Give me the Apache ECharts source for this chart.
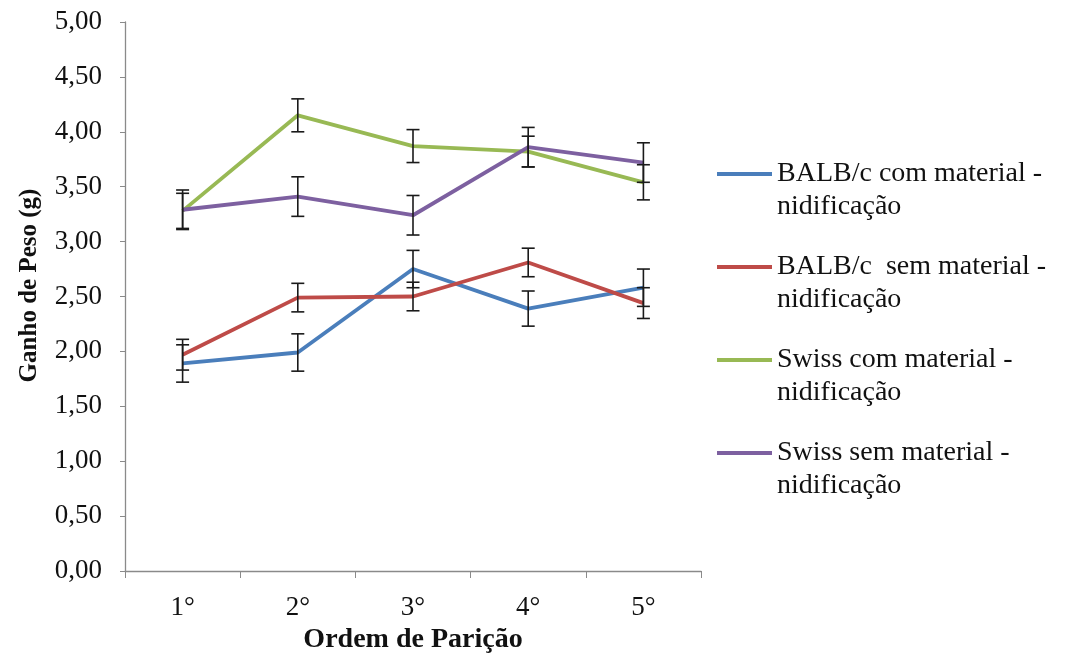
<!DOCTYPE html>
<html>
<head>
<meta charset="utf-8">
<script src="https://cdn.jsdelivr.net/npm/echarts@6/dist/echarts.min.js"></script>
<style>html,body{margin:0;padding:0;background:#fff}#c{width:1071px;height:663px}</style>
</head>
<body>
<div id="c"></div>
<script>
const categories = ['1°', '2°', '3°', '4°', '5°'];
const seriesNames = [
  'BALB/c com material - nidificação',
  'BALB/c  sem material - nidificação',
  'Swiss com material - nidificação',
  'Swiss sem material - nidificação'
];
const balbCom = [1.89, 1.99, 2.75, 2.39, 2.58];
const balbSem = [1.97, 2.49, 2.50, 2.81, 2.44];
const swissCom = [3.28, 4.15, 3.87, 3.82, 3.54];
const swissSem = [3.29, 3.41, 3.24, 3.86, 3.72];
const balbComErr = [0.17, 0.17, 0.17, 0.16, 0.17];
const balbSemErr = [0.14, 0.13, 0.13, 0.13, 0.14];
const swissComErr = [0.16, 0.15, 0.15, 0.14, 0.16];
const swissSemErr = [0.18, 0.18, 0.18, 0.18, 0.18];
const yTicks = [0, 0.5, 1, 1.5, 2, 2.5, 3, 3.5, 4, 4.5, 5];

const values = [balbCom, balbSem, swissCom, swissSem];
const errors = [balbComErr, balbSemErr, swissComErr, swissSemErr];
const colors = ['#4a7ebb', '#be4b48', '#98b954', '#7d60a0'];
const font = 'Liberation Serif, Times New Roman, serif';

const chart = echarts.init(document.getElementById('c'), null, {renderer: 'canvas'});

const lineSeries = values.map((v, i) => ({
  name: seriesNames[i],
  type: 'line',
  data: v,
  symbol: 'none',
  lineStyle: {width: 3.8, color: colors[i]},
  itemStyle: {color: colors[i]},
  z: 3
}));

const errSeries = values.map((v, i) => ({
  type: 'custom',
  name: 'err' + i,
  data: v.map((y, j) => [j, y - errors[i][j], y + errors[i][j]]),
  renderItem: function (params, api) {
    const lo = api.coord([api.value(0), api.value(1)]);
    const hi = api.coord([api.value(0), api.value(2)]);
    const w = 6.5;
    const style = {stroke: '#1a1a1a', lineWidth: 1.6};
    return {
      type: 'group',
      children: [
        {type: 'line', shape: {x1: lo[0], y1: lo[1], x2: hi[0], y2: hi[1]}, style: style},
        {type: 'line', shape: {x1: lo[0] - w, y1: lo[1], x2: lo[0] + w, y2: lo[1]}, style: style},
        {type: 'line', shape: {x1: hi[0] - w, y1: hi[1], x2: hi[0] + w, y2: hi[1]}, style: style}
      ]
    };
  },
  encode: {x: 0, y: [1, 2]},
  z: 4,
  silent: true
}));

const legendIcon = 'path://M0,15L55,15L55,19L0,19Z M0,0L0.01,0L0,0.01Z M0,66L0.01,66L0,65.99Z';

chart.setOption({
  animation: false,
  backgroundColor: '#fff',
  grid: {left: 125, right: 370, top: 22, bottom: 92},
  legend: {
    data: seriesNames,
    orient: 'vertical',
    left: 712,
    top: 152,
    itemGap: 27,
    itemWidth: 55,
    itemHeight: 66,
    icon: legendIcon,
    formatter: n => n.replace(' - ', ' -\n'),
    textStyle: {fontFamily: font, fontSize: 28, lineHeight: 33, color: '#111'}
  },
  xAxis: {
    type: 'category',
    data: categories,
    boundaryGap: true,
    name: 'Ordem de Parição',
    nameLocation: 'middle',
    nameGap: 51,
    nameTextStyle: {fontFamily: font, fontSize: 28, fontWeight: 'bold', color: '#111'},
    axisLine: {lineStyle: {color: '#8a8a8a', width: 1.3}},
    axisTick: {show: true, length: 7, lineStyle: {color: '#8a8a8a'}},
    axisLabel: {fontFamily: font, fontSize: 27, color: '#111', margin: 23},
    splitLine: {show: false}
  },
  yAxis: {
    type: 'value',
    min: 0,
    max: 5,
    interval: 0.5,
    name: 'Ganho de Peso (g)',
    nameLocation: 'middle',
    nameGap: 83,
    nameTextStyle: {fontFamily: font, fontSize: 25, fontWeight: 'bold', color: '#111', padding: [0, 0, 0, 22]},
    axisLine: {show: true, lineStyle: {color: '#8a8a8a', width: 1.3}},
    axisTick: {show: true, length: 5, lineStyle: {color: '#8a8a8a'}},
    axisLabel: {
      fontFamily: font, fontSize: 27, color: '#111', margin: 23,
      formatter: v => yTicks.indexOf(v) >= 0 ? v.toFixed(2).replace('.', ',') : ''
    },
    splitLine: {show: false}
  },
  series: lineSeries.concat(errSeries)
});
</script>
</body>
</html>
